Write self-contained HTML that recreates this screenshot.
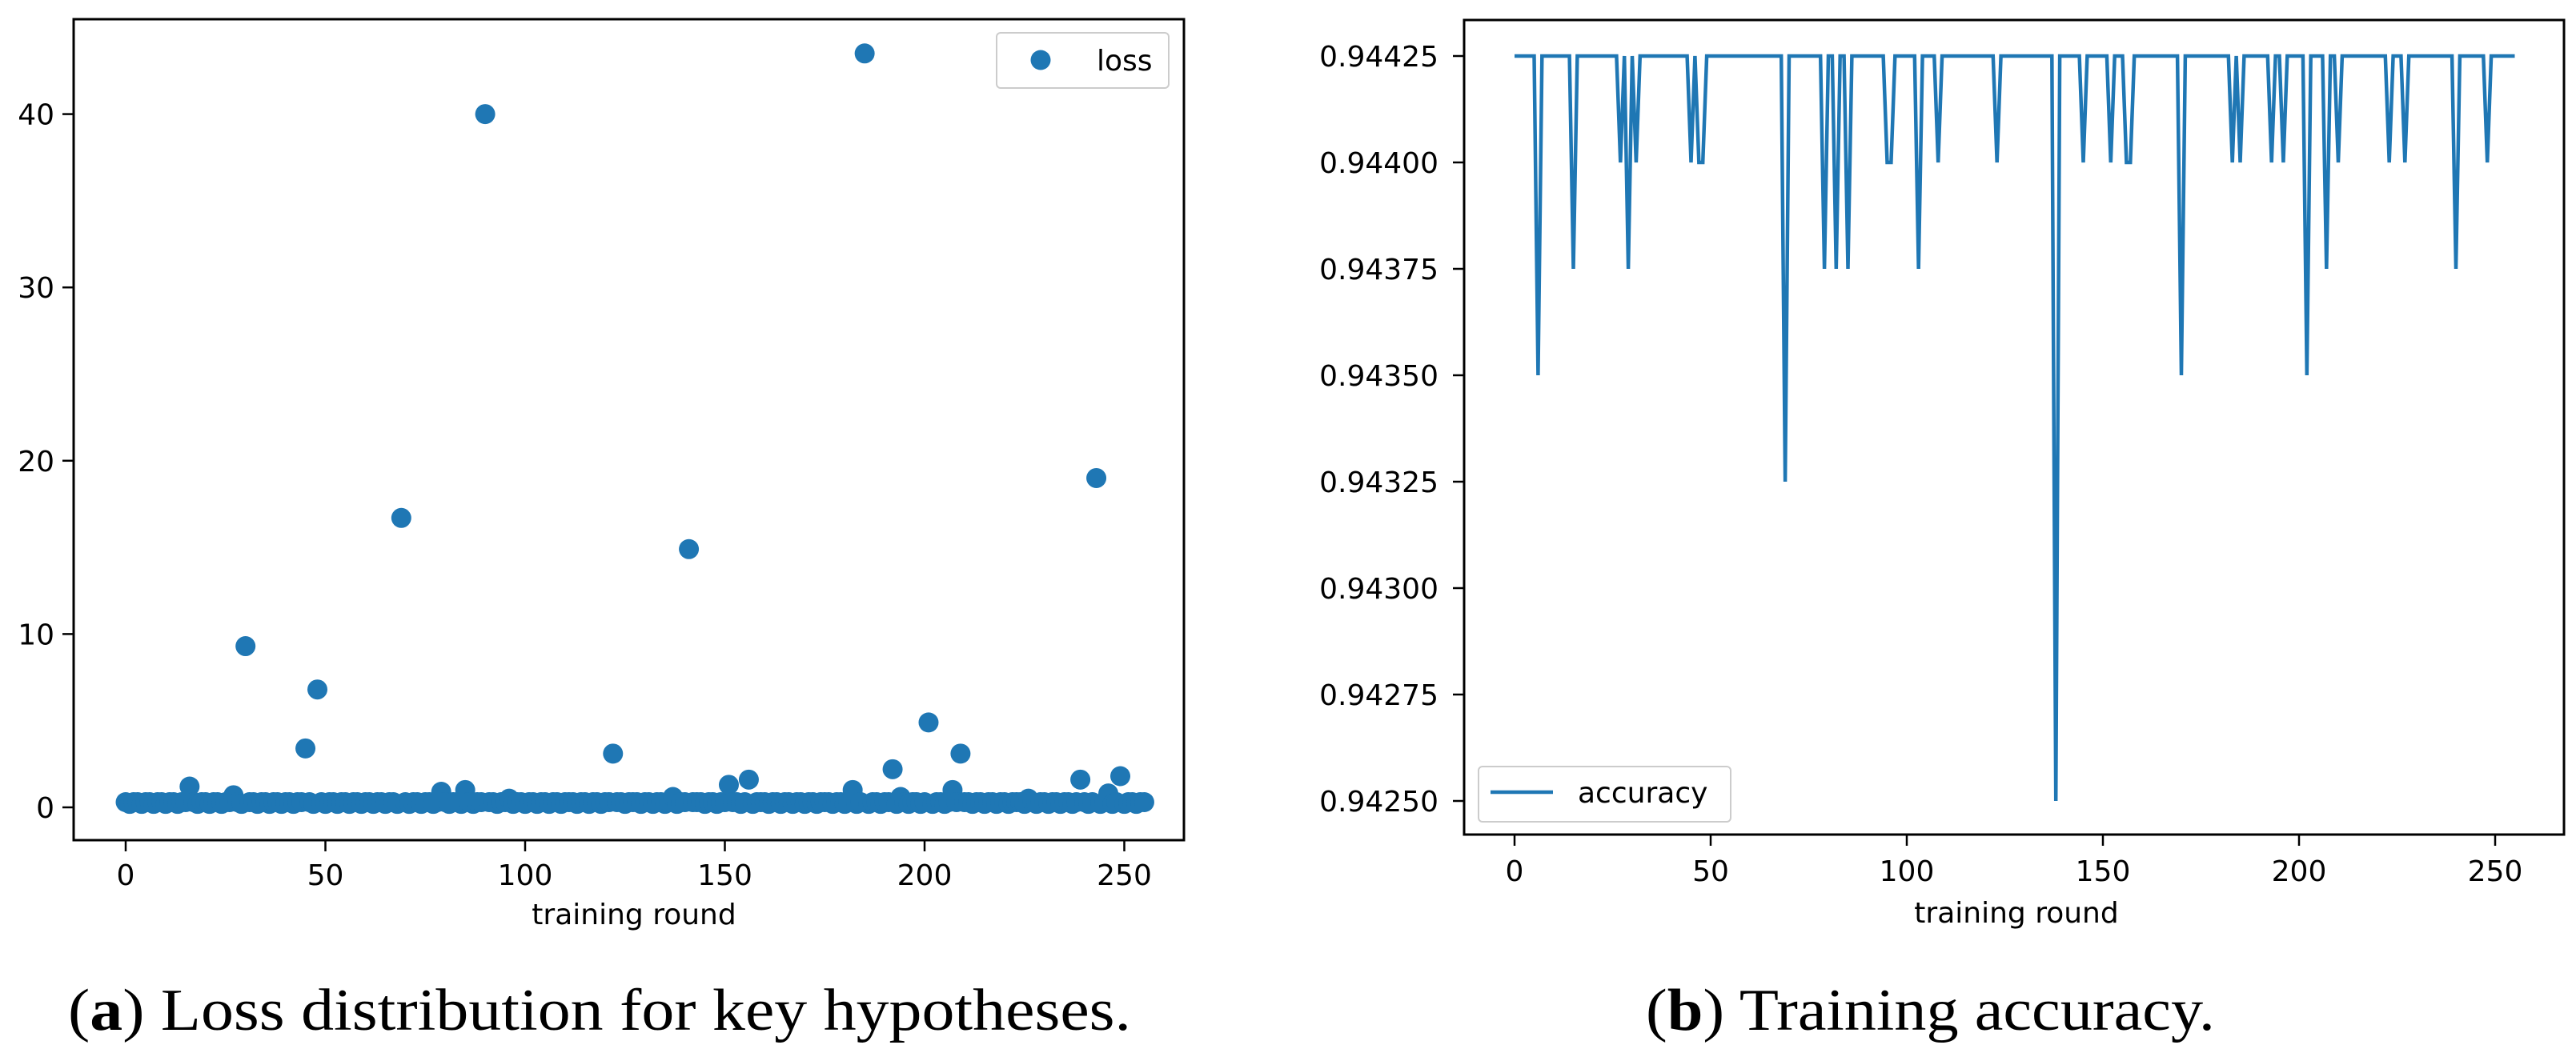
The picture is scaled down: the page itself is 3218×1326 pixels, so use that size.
<!DOCTYPE html>
<html><head><meta charset="utf-8"><style>
html,body{margin:0;padding:0;background:#fff;}
svg{display:block;}
.tk{font-family:"DejaVu Sans","Liberation Sans",sans-serif;font-size:36px;fill:#000;}
.cap{font-family:"Liberation Serif",serif;font-size:74px;fill:#000;}
</style></head><body>
<svg id="fig" width="3218" height="1326" viewBox="0 0 3218 1326" xmlns="http://www.w3.org/2000/svg">
<g id="left"></g>
<g id="right"></g>
<text class="cap" x="85" y="1287" textLength="1328" lengthAdjust="spacingAndGlyphs">(<tspan font-weight="bold">a</tspan>) Loss distribution for key hypotheses.</text>
<text class="cap" x="2056" y="1287" textLength="711" lengthAdjust="spacingAndGlyphs">(<tspan font-weight="bold">b</tspan>) Training accuracy.</text>
</svg>
<script>
const lossValues = [
0.3,0.2,0.3,0.3,0.2,0.3,0.3,0.2,0.3,0.3,0.2,0.3,0.3,0.2,0.3,0.3,
1.2,0.3,0.2,0.3,0.3,0.2,0.3,0.3,0.2,0.3,0.3,0.7,0.3,0.2,9.3,0.3,
0.3,0.2,0.3,0.3,0.2,0.3,0.3,0.2,0.3,0.3,0.2,0.3,0.3,3.4,0.3,0.2,
6.8,0.3,0.2,0.3,0.3,0.2,0.3,0.3,0.2,0.3,0.3,0.2,0.3,0.3,0.2,0.3,
0.3,0.2,0.3,0.3,0.2,16.7,0.3,0.2,0.3,0.3,0.2,0.3,0.3,0.2,0.3,0.9,
0.3,0.2,0.3,0.3,0.2,1.0,0.3,0.2,0.3,0.3,40,0.3,0.3,0.2,0.3,0.3,
0.5,0.2,0.3,0.3,0.2,0.3,0.3,0.2,0.3,0.3,0.2,0.3,0.3,0.2,0.3,0.3,
0.3,0.2,0.3,0.3,0.2,0.3,0.3,0.2,0.3,0.3,3.1,0.3,0.3,0.2,0.3,0.3,
0.3,0.2,0.3,0.3,0.2,0.3,0.3,0.2,0.3,0.6,0.2,0.3,0.3,14.9,0.3,0.3,
0.3,0.2,0.3,0.3,0.2,0.3,0.3,1.3,0.3,0.3,0.2,0.3,1.6,0.2,0.3,0.3,
0.3,0.2,0.3,0.3,0.2,0.3,0.3,0.2,0.3,0.3,0.2,0.3,0.3,0.2,0.3,0.3,
0.3,0.2,0.3,0.3,0.2,0.3,1.0,0.2,0.3,43.5,0.2,0.3,0.3,0.2,0.3,0.3,
2.2,0.2,0.6,0.3,0.2,0.3,0.3,0.2,0.3,4.9,0.2,0.3,0.3,0.2,0.3,1.0,
0.3,3.1,0.3,0.3,0.2,0.3,0.3,0.2,0.3,0.3,0.2,0.3,0.3,0.2,0.3,0.3,
0.3,0.2,0.5,0.3,0.2,0.3,0.3,0.2,0.3,0.3,0.2,0.3,0.3,0.2,0.3,1.6,
0.3,0.2,0.3,19,0.2,0.3,0.8,0.2,0.3,1.8,0.2,0.3,0.3,0.2,0.3,0.3];
const accuracyValues = [
0.94425,0.94425,0.94425,0.94425,0.94425,0.94425,0.9435,0.94425,0.94425,0.94425,0.94425,0.94425,0.94425,0.94425,0.94425,0.94375,
0.94425,0.94425,0.94425,0.94425,0.94425,0.94425,0.94425,0.94425,0.94425,0.94425,0.94425,0.944,0.94425,0.94375,0.94425,0.944,
0.94425,0.94425,0.94425,0.94425,0.94425,0.94425,0.94425,0.94425,0.94425,0.94425,0.94425,0.94425,0.94425,0.944,0.94425,0.944,
0.944,0.94425,0.94425,0.94425,0.94425,0.94425,0.94425,0.94425,0.94425,0.94425,0.94425,0.94425,0.94425,0.94425,0.94425,0.94425,
0.94425,0.94425,0.94425,0.94425,0.94425,0.94325,0.94425,0.94425,0.94425,0.94425,0.94425,0.94425,0.94425,0.94425,0.94425,0.94375,
0.94425,0.94425,0.94375,0.94425,0.94425,0.94375,0.94425,0.94425,0.94425,0.94425,0.94425,0.94425,0.94425,0.94425,0.94425,0.944,
0.944,0.94425,0.94425,0.94425,0.94425,0.94425,0.94425,0.94375,0.94425,0.94425,0.94425,0.94425,0.944,0.94425,0.94425,0.94425,
0.94425,0.94425,0.94425,0.94425,0.94425,0.94425,0.94425,0.94425,0.94425,0.94425,0.94425,0.944,0.94425,0.94425,0.94425,0.94425,
0.94425,0.94425,0.94425,0.94425,0.94425,0.94425,0.94425,0.94425,0.94425,0.94425,0.9425,0.94425,0.94425,0.94425,0.94425,0.94425,
0.94425,0.944,0.94425,0.94425,0.94425,0.94425,0.94425,0.94425,0.944,0.94425,0.94425,0.94425,0.944,0.944,0.94425,0.94425,
0.94425,0.94425,0.94425,0.94425,0.94425,0.94425,0.94425,0.94425,0.94425,0.94425,0.9435,0.94425,0.94425,0.94425,0.94425,0.94425,
0.94425,0.94425,0.94425,0.94425,0.94425,0.94425,0.94425,0.944,0.94425,0.944,0.94425,0.94425,0.94425,0.94425,0.94425,0.94425,
0.94425,0.944,0.94425,0.94425,0.944,0.94425,0.94425,0.94425,0.94425,0.94425,0.9435,0.94425,0.94425,0.94425,0.94425,0.94375,
0.94425,0.94425,0.944,0.94425,0.94425,0.94425,0.94425,0.94425,0.94425,0.94425,0.94425,0.94425,0.94425,0.94425,0.94425,0.944,
0.94425,0.94425,0.94425,0.944,0.94425,0.94425,0.94425,0.94425,0.94425,0.94425,0.94425,0.94425,0.94425,0.94425,0.94425,0.94425,
0.94375,0.94425,0.94425,0.94425,0.94425,0.94425,0.94425,0.94425,0.944,0.94425,0.94425,0.94425,0.94425,0.94425,0.94425,0.94425];
const xTicks = [0,50,100,150,200,250];
const lossYTicks = [0,10,20,30,40];
const accYTicks = [0.9425,0.94275,0.943,0.94325,0.9435,0.94375,0.944,0.94425];
const accYLabels = ["0.94250","0.94275","0.94300","0.94325","0.94350","0.94375","0.94400","0.94425"];

const NS = "http://www.w3.org/2000/svg";
const C = "#1f77b4";
function mk(tag, attrs, parent){
  const e = document.createElementNS(NS, tag);
  for (const k in attrs) e.setAttribute(k, attrs[k]);
  parent.appendChild(e);
  return e;
}
// left axes
const L = document.getElementById('left');
const lx = v => 157 + v*4.99;
const ly = v => 1009 - v*21.66;
lossValues.forEach((v,i)=>{
  const c = mk('circle',{cx:lx(i),cy:ly(v),r:12.5,fill:C},L);
  
  
});
const lframe = mk('rect',{x:92,y:24,width:1387,height:1026,fill:'none',stroke:'#000','stroke-width':3},L);


xTicks.forEach(t=>{
  mk('line',{x1:lx(t),x2:lx(t),y1:1050,y2:1064,stroke:'#000','stroke-width':2.5},L);
  const tx = mk('text',{x:lx(t),y:1106,'text-anchor':'middle',class:'tk'},L);
  tx.textContent = t;
  
  
});
lossYTicks.forEach(t=>{
  mk('line',{x1:78,x2:92,y1:ly(t),y2:ly(t),stroke:'#000','stroke-width':2.5},L);
  const tx = mk('text',{x:68,y:ly(t)+13,'text-anchor':'end',class:'tk'},L);
  tx.textContent = t;
  
  
});
const lxl = mk('text',{x:792,y:1155,'text-anchor':'middle',class:'tk'},L);
lxl.textContent = 'training round';


const lleg = mk('g',{},L);


mk('rect',{x:1245,y:41,width:215,height:69,rx:5,fill:'#fff',stroke:'#ccc','stroke-width':2},lleg);
mk('circle',{cx:1300,cy:75,r:12.5,fill:C},lleg);
const llt = mk('text',{x:1370,y:88,class:'tk'},lleg);
llt.textContent = 'loss';

// right axes
const R = document.getElementById('right');
const rx = v => 1892 + v*4.90;
const ry = v => 70 + (0.94425 - v)/0.00025*133;
const pts = accuracyValues.map((v,i)=>rx(i).toFixed(1)+','+ry(v).toFixed(1)).join(' ');
const pl = mk('polyline',{points:pts,fill:'none',stroke:C,'stroke-width':4.5,'stroke-linejoin':'miter','stroke-miterlimit':2},R);


const rframe = mk('rect',{x:1829,y:25,width:1374,height:1018,fill:'none',stroke:'#000','stroke-width':3},R);


xTicks.forEach(t=>{
  mk('line',{x1:rx(t),x2:rx(t),y1:1043,y2:1057,stroke:'#000','stroke-width':2.5},R);
  const tx = mk('text',{x:rx(t),y:1101,'text-anchor':'middle',class:'tk'},R);
  tx.textContent = t;
  
  
});
accYTicks.forEach((t,i)=>{
  mk('line',{x1:1815,x2:1829,y1:ry(t),y2:ry(t),stroke:'#000','stroke-width':2.5},R);
  const tx = mk('text',{x:1797,y:ry(t)+13,'text-anchor':'end',class:'tk'},R);
  tx.textContent = accYLabels[i];
  
  
});
const rxl = mk('text',{x:2519,y:1153,'text-anchor':'middle',class:'tk'},R);
rxl.textContent = 'training round';


const rleg = mk('g',{},R);


mk('rect',{x:1847,y:958,width:315,height:69,rx:5,fill:'#fff',stroke:'#ccc','stroke-width':2},rleg);
mk('line',{x1:1862,x2:1940,y1:990,y2:990,stroke:C,'stroke-width':4.5},rleg);
const rlt = mk('text',{x:1971,y:1003,class:'tk'},rleg);
rlt.textContent = 'accuracy';
</script>
</body></html>
